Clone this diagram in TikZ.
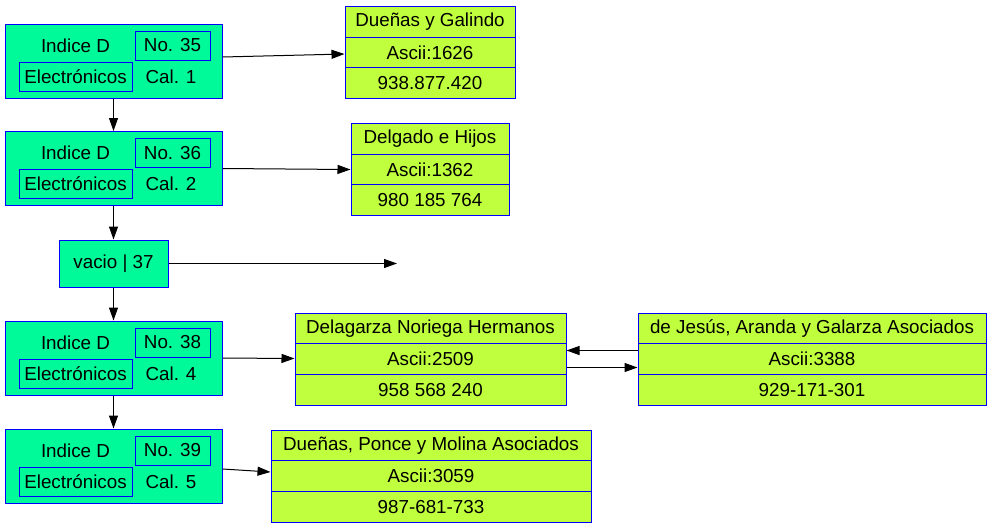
\documentclass[tikz,border=0pt]{standalone}
\usepackage{fontspec}
\setmainfont{Liberation Sans}
\usetikzlibrary{arrows.meta}
\definecolor{gfill}{HTML}{00FA9A}
\definecolor{rfill}{HTML}{C0FF3E}
\begin{document}
\begin{tikzpicture}[x=1pt,y=-1pt,
  font=\fontsize{18.8}{22}\selectfont,
  gbox/.style={draw=blue, fill=gfill, line width=1pt, inner sep=0pt, minimum width=217pt, minimum height=74pt},
  ibox/.style={draw=blue, line width=1pt, inner sep=0pt, minimum height=29pt},
  plain/.style={inner sep=0pt},
  rrow/.style={draw=blue, fill=rfill, line width=1pt, inner sep=0pt, minimum height=30.67pt, anchor=north},
  conn/.style={line width=1pt, -{Triangle[length=13pt,width=9pt]}}
]
\useasboundingbox (0,0) rectangle (992,528);

% green index boxes
\node[gbox] (g1) at (113.5,61) {};
\node[ibox, minimum width=75pt] (n1) at (172.5,45.5) {No. 35};
\node[ibox, minimum width=113pt] (e1) at (75.5,76.5) {Electrónicos};
\node[plain] (i1) at (75.5,45.5) {Indice D};
\node[plain] (c1) at (171,76.5) {Cal. 1};

\node[gbox] (g2) at (113.5,168.5) {};
\node[ibox, minimum width=75pt] (n2) at (172.5,153) {No. 36};
\node[ibox, minimum width=113pt] (e2) at (75.5,184) {Electrónicos};
\node[plain] (i2) at (75.5,153) {Indice D};
\node[plain] (c2) at (171,184) {Cal. 2};

\node[gbox, minimum width=109pt, minimum height=47pt] (v3) at (113.5,263.5) {vacio | 37};

\node[gbox] (g4) at (113.5,358) {};
\node[ibox, minimum width=75pt] (n4) at (172.5,342.5) {No. 38};
\node[ibox, minimum width=113pt] (e4) at (75.5,373.5) {Electrónicos};
\node[plain] (i4) at (75.5,342.5) {Indice D};
\node[plain] (c4) at (171,373.5) {Cal. 4};

\node[gbox] (g5) at (113.5,466) {};
\node[ibox, minimum width=75pt] (n5) at (172.5,450.5) {No. 39};
\node[ibox, minimum width=113pt] (e5) at (75.5,481.5) {Electrónicos};
\node[plain] (i5) at (75.5,450.5) {Indice D};
\node[plain] (c5) at (171,481.5) {Cal. 5};

% records
\node[rrow, minimum width=170pt] (r1a) at (430,6) {Dueñas y Galindo};
\node[rrow, minimum width=170pt] (r1b) at (430,36.67) {Ascii:1626};
\node[rrow, minimum width=170pt] (r1c) at (430,67.33) {938.877.420};

\node[rrow, minimum width=158pt] (r2a) at (430,123) {Delgado e Hijos};
\node[rrow, minimum width=158pt] (r2b) at (430,153.67) {Ascii:1362};
\node[rrow, minimum width=158pt] (r2c) at (430,184.33) {980 185 764};

\node[rrow, minimum width=271pt] (r3a) at (430.5,312.5) {Delagarza Noriega Hermanos};
\node[rrow, minimum width=271pt] (r3b) at (430.5,343.17) {Ascii:2509};
\node[rrow, minimum width=271pt] (r3c) at (430.5,373.83) {958 568 240};

\node[rrow, minimum width=348pt] (r4a) at (812,312.5) {de Jesús, Aranda y Galarza Asociados};
\node[rrow, minimum width=348pt] (r4b) at (812,343.17) {Ascii:3388};
\node[rrow, minimum width=348pt] (r4c) at (812,373.83) {929-171-301};

\node[rrow, minimum width=320pt] (r5a) at (431,429.5) {Dueñas, Ponce y Molina Asociados};
\node[rrow, minimum width=320pt] (r5b) at (431,460.17) {Ascii:3059};
\node[rrow, minimum width=320pt] (r5c) at (431,490.83) {987-681-733};

\coordinate (v3end) at (397,263.5);

% connectors
\draw[conn] (g1.south) -- (g2.north);
\draw[conn] (g2.south) -- (v3.north);
\draw[conn] (v3.south) -- (g4.north);
\draw[conn] (g4.south) -- (g5.north);

\draw[conn] ([yshift=4pt]g1.east) -- ([yshift=-1.5pt]r1b.west);
\draw[conn] (g2.east) -- (r2b.west);
\draw[conn] (v3.east) -- (v3end);
\draw[conn] (g4.east) -- ([yshift=0.5pt]r3b.west);
\draw[conn] ([yshift=-3pt]g5.east) -- ([yshift=4pt]r5b.west);
\draw[conn] ([yshift=-8.5pt]r3b.east) -- ([yshift=-8.5pt]r4b.west);
\draw[conn] ([yshift=8.5pt]r4b.west) -- ([yshift=8.5pt]r3b.east);
\end{tikzpicture}
\end{document}
